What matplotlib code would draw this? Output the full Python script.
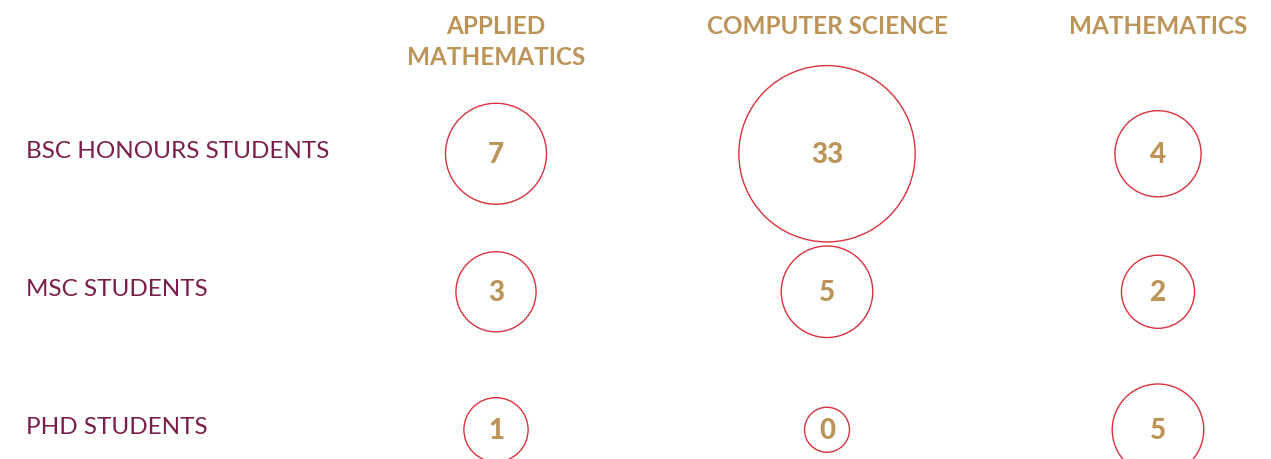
import numpy as np
import matplotlib.pyplot as plt
from matplotlib import transforms

# columns (subjects) and rows (student levels)
subjects = ["APPLIED\nMATHEMATICS", "COMPUTER SCIENCE", "MATHEMATICS"]
levels = ["BSC HONOURS STUDENTS", "MSC STUDENTS", "PHD STUDENTS"]
bsc_counts = [7, 33, 4]
msc_counts = [3, 5, 2]
phd_counts = [1, 0, 5]

gold = "#BC9459"
maroon = "#7A1F4B"
red = "#D9313F"
plt.rcParams['font.family'] = ['Lato', 'DejaVu Sans']

W, H, dpi = 1271, 460, 100
fig = plt.figure(figsize=(W / dpi, H / dpi), dpi=dpi)
ax = fig.add_axes([0, 0, 1, 1])
ax.axis('off')

# pixel layout: column 0 at x=496, spacing 331; row 0 at y=152, spacing 138
col_px, col_step = 496.0, 331.0
row_px, row_step = 152.0, 138.0
ax.set_xlim(-col_px / col_step, (W - col_px) / col_step)
ax.set_ylim((H - row_px) / row_step, -row_px / row_step)


def radius_px(v):
    # size scale for the bubbles (pixels)
    return 22.5 + 9.6 * np.power(v, 0.55)


counts = [bsc_counts, msc_counts, phd_counts]
for i, row in enumerate(counts):
    xs = np.arange(len(row))
    ys = np.full(len(row), i + 0.02)
    r = radius_px(np.array(row, dtype=float))
    s = (2 * r * 72 / dpi) ** 2
    ax.scatter(xs, ys, s=s, facecolors='none', edgecolors=red, linewidths=1.0,
               clip_on=False)
    for x, y, v in zip(xs, ys, row):
        ax.text(x, y, str(v), ha='center', va='center', color=gold,
                fontsize=20, fontweight='black')

# row labels
for i, lab in enumerate(levels):
    ax.text(26 / W, i, lab, transform=transforms.blended_transform_factory(ax.transAxes, ax.transData),
            ha='left', va='center', color=maroon, fontsize=17.5)

# column headers
trans = transforms.blended_transform_factory(ax.transData, ax.transAxes)
for j, lab in enumerate(subjects):
    ax.text(j, 1 - 15 / H, lab, transform=trans, ha='center', va='top',
            color=gold, fontsize=17.5, fontweight='bold', linespacing=1.4)

plt.savefig("out.png", dpi=dpi)
